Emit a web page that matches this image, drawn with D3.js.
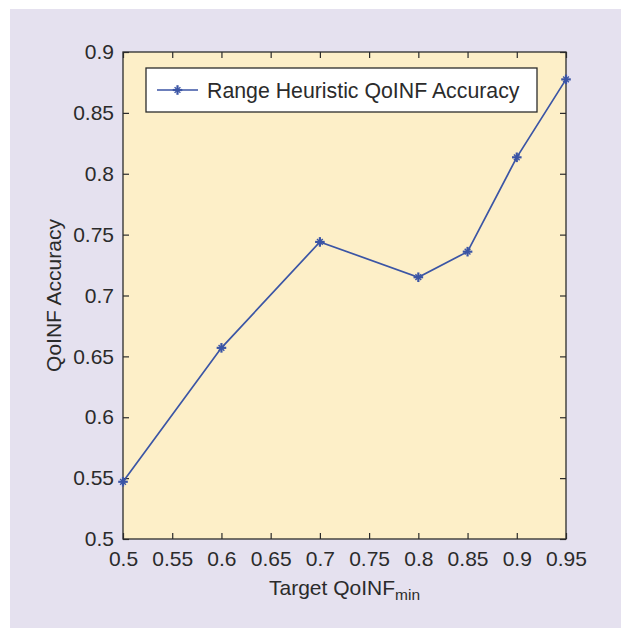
<!DOCTYPE html>
<html>
<head>
<meta charset="utf-8">
<script src="https://cdn.jsdelivr.net/npm/d3@7"></script>
<style>
  body { margin: 0; background: #fff; }
  svg text { font-family: "Liberation Sans", Arial, sans-serif; fill: #2b2b2b; }
</style>
</head>
<body>
<div id="chart"></div>
<script>
// values
const targets = [0.5, 0.6, 0.7, 0.8, 0.85, 0.9, 0.95];
const accuracy = [0.547, 0.657, 0.744, 0.715, 0.736, 0.8135, 0.8775];
const xTicks = [0.5, 0.55, 0.6, 0.65, 0.7, 0.75, 0.8, 0.85, 0.9, 0.95];
const yTicks = [0.5, 0.55, 0.6, 0.65, 0.7, 0.75, 0.8, 0.85, 0.9];
const seriesName = "Range Heuristic QoINF Accuracy";

const width = 621, height = 628;
const marginLeft = 123, marginRight = 55, marginTop = 52, marginBottom = 89;
const lineColor = "#3b55a5";
const axisColor = "#2b2b2b";

const svg = d3.select("#chart").append("svg")
    .attr("width", width)
    .attr("height", height);

// lavender panel
svg.append("rect")
    .attr("x", 10).attr("y", 9)
    .attr("width", width - 10).attr("height", height - 9)
    .attr("fill", "#e5e1ef");

const x = d3.scaleLinear().domain([0.5, 0.95]).range([marginLeft, width - marginRight]);
const y = d3.scaleLinear().domain([0.5, 0.9]).range([height - marginBottom, marginTop]);

// plot area
svg.append("rect")
    .attr("x", x(0.5)).attr("y", y(0.9))
    .attr("width", x(0.95) - x(0.5)).attr("height", y(0.5) - y(0.9))
    .attr("fill", "#fdefc8");

const tickLen = 6;
const fmt = d => String(+d.toFixed(2));

function styleAxis(g) {
    g.selectAll(".domain").remove();
    g.selectAll(".tick line").attr("stroke", axisColor).attr("stroke-width", 1.2);
    g.selectAll(".tick text")
        .attr("font-size", 21)
        .style("font-family", "'Liberation Sans', Arial, sans-serif")
        .attr("fill", "#2b2b2b");
}

// bottom axis
svg.append("g")
    .attr("transform", `translate(0,${y(0.5)})`)
    .call(d3.axisBottom(x).tickValues(xTicks).tickFormat(fmt).tickSizeInner(-tickLen).tickSizeOuter(0).tickPadding(12))
    .call(styleAxis);

// top axis (ticks only)
svg.append("g")
    .attr("transform", `translate(0,${y(0.9)})`)
    .call(d3.axisTop(x).tickValues(xTicks).tickFormat("").tickSizeInner(-tickLen).tickSizeOuter(0))
    .call(styleAxis);

// left axis
svg.append("g")
    .attr("transform", `translate(${x(0.5)},0)`)
    .call(d3.axisLeft(y).tickValues(yTicks).tickFormat(fmt).tickSizeInner(-tickLen).tickSizeOuter(0).tickPadding(9))
    .call(styleAxis);

// right axis (ticks only)
svg.append("g")
    .attr("transform", `translate(${x(0.95)},0)`)
    .call(d3.axisRight(y).tickValues(yTicks).tickFormat("").tickSizeInner(-tickLen).tickSizeOuter(0))
    .call(styleAxis);

// frame
svg.append("rect")
    .attr("x", x(0.5)).attr("y", y(0.9))
    .attr("width", x(0.95) - x(0.5)).attr("height", y(0.5) - y(0.9))
    .attr("fill", "none")
    .attr("stroke", axisColor)
    .attr("stroke-width", 1.3);

// series line
const line = d3.line()
    .x((d, i) => x(targets[i]))
    .y(d => y(d));

svg.append("path")
    .attr("d", line(accuracy))
    .attr("fill", "none")
    .attr("stroke", lineColor)
    .attr("stroke-width", 1.7);

// asterisk marker
function star(g, cx, cy, r) {
    const s = r * 0.6;
    const segs = [[0, -r, 0, r, 2.2], [-r, 0, r, 0, 2.2], [-s, -s, s, s, 1.4], [-s, s, s, -s, 1.4]];
    segs.forEach(([a, b, c, d, w]) => {
        g.append("line")
            .attr("x1", cx + a).attr("y1", cy + b)
            .attr("x2", cx + c).attr("y2", cy + d)
            .attr("stroke", lineColor)
            .attr("stroke-width", w);
    });
}

const markers = svg.append("g");
accuracy.forEach((d, i) => star(markers, x(targets[i]), y(d), 4.8));

// legend
const legend = svg.append("g");
legend.append("rect")
    .attr("x", 146).attr("y", 68)
    .attr("width", 391).attr("height", 44)
    .attr("fill", "#fff")
    .attr("stroke", axisColor)
    .attr("stroke-width", 1.3);
legend.append("line")
    .attr("x1", 157).attr("x2", 198)
    .attr("y1", 90).attr("y2", 90)
    .attr("stroke", lineColor)
    .attr("stroke-width", 1.7);
star(legend, 177.5, 90, 4.8);
legend.append("text")
    .attr("x", 207).attr("y", 97.5)
    .attr("font-size", 21.3)
    .text(seriesName);

// axis labels
const xl = svg.append("text")
    .attr("x", (x(0.5) + x(0.95)) / 2)
    .attr("y", 595)
    .attr("text-anchor", "middle")
    .attr("font-size", 21);
xl.append("tspan").text("Target QoINF");
xl.append("tspan").attr("font-size", 15.5).attr("dy", 5).text("min");

svg.append("text")
    .attr("transform", `translate(61,${(y(0.5) + y(0.9)) / 2}) rotate(-90)`)
    .attr("text-anchor", "middle")
    .attr("font-size", 21)
    .text("QoINF Accuracy");
</script>
</body>
</html>
